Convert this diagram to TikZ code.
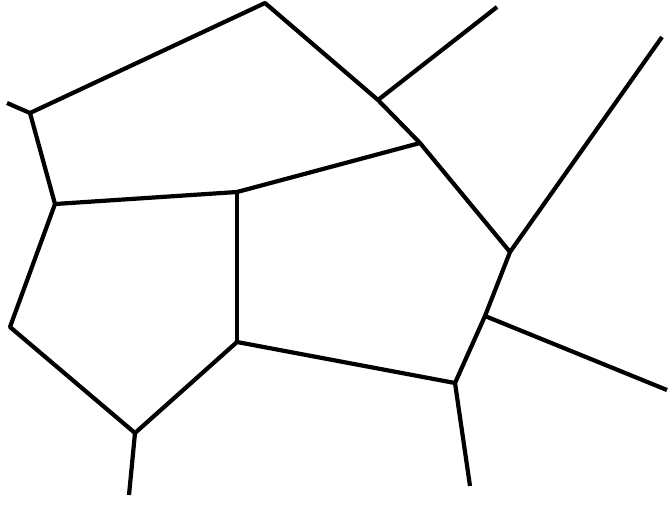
\documentclass[tikz,border=0pt]{standalone}
\begin{document}
\begin{tikzpicture}[x=1pt,y=-1pt,edge/.style={line width=4.2pt,line join=round}]
\useasboundingbox (0,0) rectangle (668,504);
\coordinate (A) at (265,3);
\coordinate (B0) at (7,103);
\coordinate (B) at (30,113);
\coordinate (C) at (55,204);
\coordinate (D) at (237,192);
\coordinate (E) at (420,143);
\coordinate (F) at (378,100);
\coordinate (G) at (497,7);
\coordinate (H) at (510,252);
\coordinate (I) at (662,37);
\coordinate (J) at (485,316);
\coordinate (K) at (667,390);
\coordinate (L) at (455,383);
\coordinate (M) at (470,486);
\coordinate (N) at (237,342);
\coordinate (O) at (135,433);
\coordinate (P) at (129,495);
\coordinate (Q) at (10,327);
\draw[edge] (B0) -- (B) -- (A) -- (F) -- (E);
\draw[edge] (F) -- (G);
\draw[edge] (B) -- (C) -- (D) -- (E) -- (H) -- (J) -- (L) -- (N) -- (O) -- (Q) -- (C);
\draw[edge] (D) -- (N);
\draw[edge] (O) -- (P);
\draw[edge] (L) -- (M);
\draw[edge] (J) -- (K);
\draw[edge] (H) -- (I);
\end{tikzpicture}
\end{document}
